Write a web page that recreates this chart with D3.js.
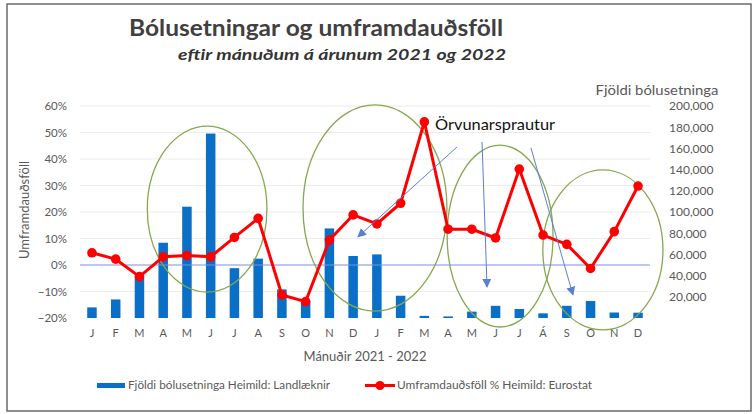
<!DOCTYPE html>
<html>
<head>
<meta charset="utf-8">
<script src="https://cdn.jsdelivr.net/npm/d3@7"></script>
<style>
	body { margin: 0; background: #fff; }
	svg { display: block; font-family: Lato, "Open Sans", sans-serif; }
</style>
</head>
<body>
<div id="chart"></div>
<script>
	'use strict';

	// DATA //

	var months = [ 'J', 'F', 'M', 'A', 'M', 'J', 'J', 'A', 'S', 'O', 'N', 'D',
		'J', 'F', 'M', 'A', 'M', 'J', 'J', 'Á', 'S', 'O', 'N', 'D' ];

	// Fjöldi bólusetninga (right axis):
	var vaccinations = [ 10000, 17500, 39000, 71000, 105000, 174000, 47000, 56000, 27000, 16000, 84500, 58500,
		60000, 21000, 2000, 1500, 6000, 11500, 8500, 4400, 11500, 16000, 5200, 5000 ];

	// Umframdauðsföll % (left axis):
	var excess = [ 0.046, 0.022, -0.044, 0.031, 0.036, 0.031, 0.104, 0.176, -0.113, -0.138, 0.094, 0.189,
		0.155, 0.233, 0.540, 0.135, 0.135, 0.102, 0.362, 0.113, 0.078, -0.013, 0.126, 0.298 ];

	var leftTicks = [ -0.2, -0.1, 0, 0.1, 0.2, 0.3, 0.4, 0.5, 0.6 ];
	var rightTicks = [ 20000, 40000, 60000, 80000, 100000, 120000, 140000, 160000, 180000, 200000 ];

	// annotation ellipses, in month index / left-axis units:
	var ellipses = [
		{ cx: 4.85, cy: 0.211, rx: 2.52, ry: 0.313 },
		{ cx: 11.92, cy: 0.215, rx: 3.03, ry: 0.389 },
		{ cx: 17.19, cy: 0.109, rx: 2.23, ry: 0.343 },
		{ cx: 21.52, cy: 0.057, rx: 2.53, ry: 0.302 }
	];
	var arrows = [
		{ x1: 15.37, y1: 0.445, x2: 11.2, y2: 0.106 },
		{ x1: 16.43, y1: 0.464, x2: 16.64, y2: -0.083 },
		{ x1: 18.49, y1: 0.442, x2: 20.26, y2: -0.113 }
	];


	// SETUP //

	var W = 753, H = 414;
	var barColor = '#0a6fc6', lineColor = '#ff0000', textColor = '#595959';

	var svg = d3.select( '#chart' ).append( 'svg' )
		.attr( 'width', W )
		.attr( 'height', H );

	var x = d3.scaleBand()
		.domain( d3.range( months.length ) )
		.range( [ 80.1, 649.9 ] )
		.paddingInner( 0.6 )
		.paddingOuter( 0.3 );
	var step = x.step();
	var xc = function ( i ) { return x( 0 ) + x.bandwidth()/2 + i*step; };

	var yL = d3.scaleLinear().domain( [ -0.2, 0.6 ] ).range( [ 318, 106 ] );
	var yR = d3.scaleLinear().domain( [ 0, 200000 ] ).range( [ 318, 106 ] );

	// frame
	svg.append( 'rect' )
		.attr( 'x', 7 ).attr( 'y', 4 )
		.attr( 'width', 744 ).attr( 'height', 407 )
		.attr( 'fill', 'none' )
		.attr( 'stroke', '#6a6a6a' )
		.attr( 'stroke-width', 1.5 );

	// titles
	svg.append( 'text' )
		.attr( 'x', 316 ).attr( 'y', 36 )
		.attr( 'text-anchor', 'middle' )
		.attr( 'font-size', 22 ).attr( 'font-weight', 'bold' )
		.attr( 'fill', '#404040' )
		.attr( 'textLength', 374 ).attr( 'lengthAdjust', 'spacingAndGlyphs' )
		.text( 'Bólusetningar og umframdauðsföll' );
	svg.append( 'text' )
		.attr( 'x', 342 ).attr( 'y', 60 )
		.attr( 'text-anchor', 'middle' )
		.attr( 'font-size', 16 ).attr( 'font-weight', 'bold' ).attr( 'font-style', 'italic' )
		.attr( 'fill', '#333' )
		.attr( 'textLength', 328 ).attr( 'lengthAdjust', 'spacingAndGlyphs' )
		.text( 'eftir mánuðum á árunum 2021 og 2022' );

	// gridlines
	svg.append( 'g' )
		.selectAll( 'line' )
		.data( leftTicks.filter( function ( d ) { return d !== 0 && d !== -0.2; } ) )
		.enter().append( 'line' )
		.attr( 'x1', 80 ).attr( 'x2', 650 )
		.attr( 'y1', function ( d ) { return yL( d ); } )
		.attr( 'y2', function ( d ) { return yL( d ); } )
		.attr( 'stroke', '#ececec' );

	// left axis
	var axL = svg.append( 'g' )
		.attr( 'transform', 'translate(70,0)' )
		.call( d3.axisLeft( yL ).tickValues( leftTicks ).tickSize( 0 ).tickPadding( 3 ).tickFormat( d3.format( '.0%' ) ) );
	axL.select( '.domain' ).remove();
	axL.selectAll( 'text' )
		.attr( 'fill', textColor ).attr( 'font-size', 11.5 )
		.attr( 'font-family', 'Lato, sans-serif' );

	// right axis
	var axR = svg.append( 'g' )
		.attr( 'transform', 'translate(666,0)' )
		.call( d3.axisRight( yR ).tickValues( rightTicks ).tickSize( 0 ).tickPadding( 3 ).tickFormat( d3.format( ',' ) ) );
	axR.select( '.domain' ).remove();
	axR.selectAll( 'text' )
		.attr( 'fill', textColor ).attr( 'font-size', 12 )
		.attr( 'font-family', 'Lato, sans-serif' );

	// axis titles
	svg.append( 'text' )
		.attr( 'transform', 'translate(29,210) rotate(-90)' )
		.attr( 'text-anchor', 'middle' )
		.attr( 'font-size', 13 ).attr( 'fill', textColor )
		.text( 'Umframdauðsföll' );
	svg.append( 'text' )
		.attr( 'x', 657 ).attr( 'y', 95 )
		.attr( 'text-anchor', 'middle' )
		.attr( 'font-size', 13 ).attr( 'fill', textColor )
		.attr( 'textLength', 123 ).attr( 'lengthAdjust', 'spacingAndGlyphs' )
		.text( 'Fjöldi bólusetninga' );
	svg.append( 'text' )
		.attr( 'x', 365 ).attr( 'y', 361 )
		.attr( 'text-anchor', 'middle' )
		.attr( 'font-size', 13 ).attr( 'fill', textColor )
		.text( 'Mánuðir 2021 - 2022' );

	// bars
	svg.append( 'g' )
		.selectAll( 'rect' )
		.data( vaccinations )
		.enter().append( 'rect' )
		.attr( 'x', function ( d, i ) { return x( i ); } )
		.attr( 'y', function ( d ) { return yR( d ); } )
		.attr( 'width', x.bandwidth() )
		.attr( 'height', function ( d ) { return yR( 0 ) - yR( d ); } )
		.attr( 'fill', barColor );

	// zero line
	svg.append( 'line' )
		.attr( 'x1', 80 ).attr( 'x2', 650 )
		.attr( 'y1', yL( 0 ) ).attr( 'y2', yL( 0 ) )
		.attr( 'stroke', '#7f8ee0' ).attr( 'stroke-width', 1 );

	// x labels
	svg.append( 'g' )
		.selectAll( 'text' )
		.data( months )
		.enter().append( 'text' )
		.attr( 'x', function ( d, i ) { return xc( i ); } )
		.attr( 'y', 337 )
		.attr( 'text-anchor', 'middle' )
		.attr( 'font-size', 11 ).attr( 'fill', textColor )
		.text( function ( d ) { return d; } );

	// ellipses
	svg.append( 'g' )
		.selectAll( 'ellipse' )
		.data( ellipses )
		.enter().append( 'ellipse' )
		.attr( 'cx', function ( d ) { return xc( d.cx ); } )
		.attr( 'cy', function ( d ) { return yL( d.cy ); } )
		.attr( 'rx', function ( d ) { return d.rx*step; } )
		.attr( 'ry', function ( d ) { return yL( 0 ) - yL( d.ry ); } )
		.attr( 'fill', 'none' )
		.attr( 'stroke', '#86a84e' )
		.attr( 'stroke-width', 1.3 );

	// red line
	var line = d3.line()
		.x( function ( d, i ) { return xc( i ); } )
		.y( function ( d ) { return yL( d ); } );
	svg.append( 'path' )
		.datum( excess )
		.attr( 'd', line )
		.attr( 'fill', 'none' )
		.attr( 'stroke', lineColor )
		.attr( 'stroke-width', 3 )
		.attr( 'stroke-linejoin', 'round' );
	svg.append( 'g' )
		.selectAll( 'circle' )
		.data( excess )
		.enter().append( 'circle' )
		.attr( 'cx', function ( d, i ) { return xc( i ); } )
		.attr( 'cy', function ( d ) { return yL( d ); } )
		.attr( 'r', 4.8 )
		.attr( 'fill', lineColor );

	// arrows
	svg.append( 'defs' ).append( 'marker' )
		.attr( 'id', 'head' )
		.attr( 'viewBox', '0 0 10 10' )
		.attr( 'refX', 9 ).attr( 'refY', 5 )
		.attr( 'markerWidth', 9 ).attr( 'markerHeight', 9 )
		.attr( 'markerUnits', 'userSpaceOnUse' )
		.attr( 'orient', 'auto' )
		.append( 'path' )
		.attr( 'd', 'M0,0L10,5L0,10Z' )
		.attr( 'fill', '#5b7fd0' );
	svg.append( 'g' )
		.selectAll( 'line' )
		.data( arrows )
		.enter().append( 'line' )
		.attr( 'x1', function ( d ) { return xc( d.x1 ); } )
		.attr( 'y1', function ( d ) { return yL( d.y1 ); } )
		.attr( 'x2', function ( d ) { return xc( d.x2 ); } )
		.attr( 'y2', function ( d ) { return yL( d.y2 ); } )
		.attr( 'stroke', '#5b7fd0' )
		.attr( 'stroke-width', 1 )
		.attr( 'marker-end', 'url(#head)' );

	svg.append( 'text' )
		.attr( 'x', xc( 14.45 ) ).attr( 'y', yL( 0.509 ) )
		.attr( 'font-size', 15 ).attr( 'fill', '#111' )
		.attr( 'textLength', 120 ).attr( 'lengthAdjust', 'spacingAndGlyphs' )
		.text( 'Örvunarsprautur' );

	// legend
	var leg = svg.append( 'g' );
	leg.append( 'rect' )
		.attr( 'x', 97 ).attr( 'y', 383 )
		.attr( 'width', 28 ).attr( 'height', 5 )
		.attr( 'fill', barColor );
	leg.append( 'text' )
		.attr( 'x', 128 ).attr( 'y', 389 )
		.attr( 'font-size', 12 ).attr( 'fill', textColor )
		.attr( 'textLength', 202 ).attr( 'lengthAdjust', 'spacingAndGlyphs' )
		.text( 'Fjöldi bólusetninga Heimild: Landlæknir' );
	leg.append( 'line' )
		.attr( 'x1', 365 ).attr( 'x2', 395 )
		.attr( 'y1', 385.5 ).attr( 'y2', 385.5 )
		.attr( 'stroke', lineColor ).attr( 'stroke-width', 3 );
	leg.append( 'circle' )
		.attr( 'cx', 380 ).attr( 'cy', 385.5 ).attr( 'r', 4.5 )
		.attr( 'fill', lineColor );
	leg.append( 'text' )
		.attr( 'x', 397 ).attr( 'y', 389 )
		.attr( 'font-size', 12 ).attr( 'fill', textColor )
		.attr( 'textLength', 195 ).attr( 'lengthAdjust', 'spacingAndGlyphs' )
		.text( 'Umframdauðsföll % Heimild: Eurostat' );
</script>
</body>
</html>
